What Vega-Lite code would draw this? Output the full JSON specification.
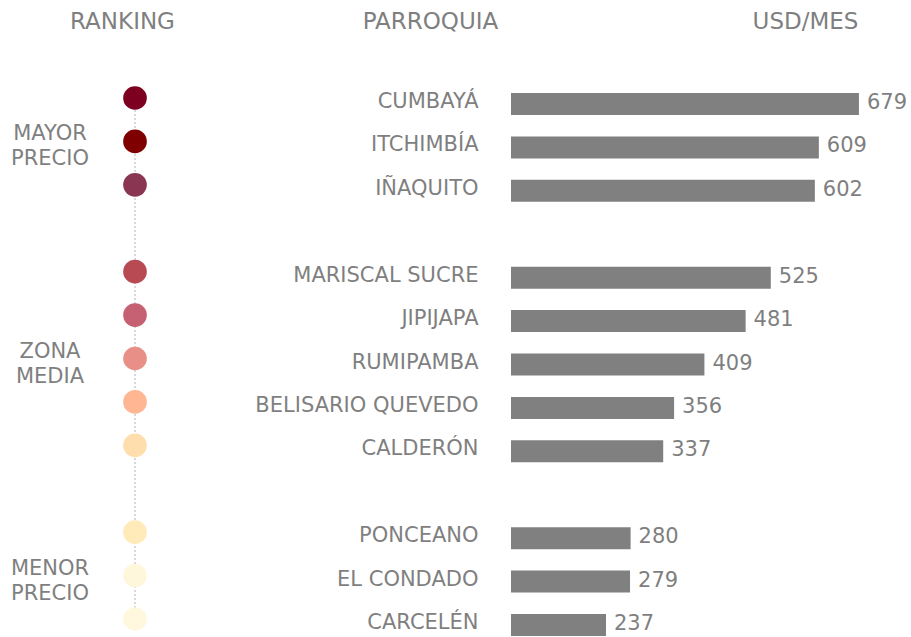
{
  "$schema": "https://vega.github.io/schema/vega-lite/v6.json",
  "padding": {"left": 0, "top": 10, "right": 0, "bottom": 0},
  "background": "white",
  "bounds": "flush",
  "spacing": 241,
  "config": {
    "view": {"stroke": null},
    "font": "DejaVu Sans"
  },
  "datasets": {
    "precios": [
      {"parroquia": "CUMBAYÁ", "usd_mes": 679},
      {"parroquia": "ITCHIMBÍA", "usd_mes": 609},
      {"parroquia": "IÑAQUITO", "usd_mes": 602},
      {"parroquia": "MARISCAL SUCRE", "usd_mes": 525},
      {"parroquia": "JIPIJAPA", "usd_mes": 481},
      {"parroquia": "RUMIPAMBA", "usd_mes": 409},
      {"parroquia": "BELISARIO QUEVEDO", "usd_mes": 356},
      {"parroquia": "CALDERÓN", "usd_mes": 337},
      {"parroquia": "PONCEANO", "usd_mes": 280},
      {"parroquia": "EL CONDADO", "usd_mes": 279},
      {"parroquia": "CARCELÉN", "usd_mes": 237}
    ],
    "grupos": [
      {"grupo": "MAYOR PRECIO", "fila": "ITCHIMBÍA"},
      {"grupo": "ZONA MEDIA", "fila": "RUMIPAMBA"},
      {"grupo": "MENOR PRECIO", "fila": "EL CONDADO"}
    ]
  },
  "hconcat": [
    {
      "width": 270,
      "height": 543,
      "encoding": {
        "y": {"field": "parroquia", "type": "nominal",
          "scale": {"type": "band", "domain": ["CUMBAYÁ", "ITCHIMBÍA", "IÑAQUITO", " ", "MARISCAL SUCRE", "JIPIJAPA", "RUMIPAMBA", "BELISARIO QUEVEDO", "CALDERÓN", "  ", "PONCEANO", "EL CONDADO", "CARCELÉN"], "paddingInner": 0.493, "paddingOuter": 0},
          "axis": {
            "labels": false, "ticks": false, "domain": false, "grid": false,
            "title": "RANKING", "titleAngle": 0, "titleAlign": "center", "titleBaseline": "middle",
            "titleX": 122, "titleY": -72, "titleFontSize": 23, "titleFontWeight": "normal", "titleColor": "#7f7f7f"
          }
        }
      },
      "layer": [
        {
          "data": {"name": "precios"},
          "mark": {"type": "line", "color": "#cccccc", "strokeDash": [2, 2], "strokeWidth": 1.5, "yOffset": -6}
        },
        {
          "data": {"name": "precios"},
          "mark": {"type": "circle", "size": 560, "opacity": 1, "yOffset": -6},
          "encoding": {
            "color": {"field": "parroquia", "type": "nominal",
              "scale": {"domain": ["CUMBAYÁ", "ITCHIMBÍA", "IÑAQUITO", "MARISCAL SUCRE", "JIPIJAPA", "RUMIPAMBA", "BELISARIO QUEVEDO", "CALDERÓN", "PONCEANO", "EL CONDADO", "CARCELÉN"],
                "range": ["#7d0020", "#7f0000", "#8a3652", "#b84a54", "#c66073", "#e88f88", "#ffb693", "#ffdeae", "#ffeab9", "#fff7dc", "#fff7de"]},
              "legend": null}
          }
        },
        {
          "data": {"name": "grupos"},
          "mark": {"type": "text", "lineBreak": " ", "dx": -85, "fontSize": 21, "lineHeight": 25, "color": "#7f7f7f", "align": "center", "baseline": "middle", "yOffset": -13},
          "encoding": {
            "y": {"field": "fila", "type": "nominal"},
            "text": {"field": "grupo", "type": "nominal"}
          }
        }
      ]
    },
    {
      "width": 400,
      "height": 543,
      "data": {"name": "precios"},
      "encoding": {
        "y": {"field": "parroquia", "type": "nominal",
          "scale": {"type": "band", "domain": ["CUMBAYÁ", "ITCHIMBÍA", "IÑAQUITO", " ", "MARISCAL SUCRE", "JIPIJAPA", "RUMIPAMBA", "BELISARIO QUEVEDO", "CALDERÓN", "  ", "PONCEANO", "EL CONDADO", "CARCELÉN"], "paddingInner": 0.493, "paddingOuter": 0},
          "axis": {
            "title": "PARROQUIA", "titleAngle": 0, "titleAlign": "center", "titleBaseline": "middle",
            "titleX": -81, "titleY": -72, "titleFontSize": 23, "titleFontWeight": "normal", "titleColor": "#7f7f7f",
            "ticks": false, "domain": false, "grid": false,
            "labelPadding": 33, "labelFontSize": 21, "labelColor": "#7f7f7f", "labelOffset": -2, "labelLimit": 400
          }
        },
        "x": {"field": "usd_mes", "type": "quantitative",
          "scale": {"domain": [71, 770], "zero": false, "nice": false, "clamp": true},
          "axis": {
            "orient": "top", "labels": false, "ticks": false, "domain": false, "grid": false,
            "title": "USD/MES", "titleAngle": 0, "titleAlign": "center", "titleBaseline": "middle",
            "titleX": 294, "titleY": -72, "titleFontSize": 23, "titleFontWeight": "normal", "titleColor": "#7f7f7f"
          }
        }
      },
      "layer": [
        {
          "mark": {"type": "bar", "color": "#808080"}
        },
        {
          "mark": {"type": "text", "align": "left", "baseline": "middle", "dx": 8, "dy": -1, "fontSize": 21, "color": "#7f7f7f"},
          "encoding": {
            "text": {"field": "usd_mes", "type": "quantitative"}
          }
        }
      ]
    }
  ]
}
